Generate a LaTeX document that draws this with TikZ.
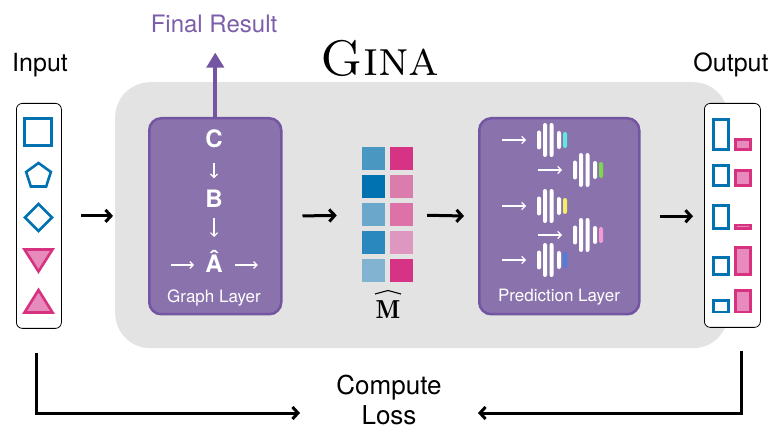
\documentclass[tikz,border=0pt]{standalone}
\usepackage{fontspec}
\setsansfont{TeX Gyre Heros}
\usetikzlibrary{arrows.meta,shapes.geometric,calc}

\definecolor{ginagray}{HTML}{E3E3E3}
\definecolor{layerfill}{HTML}{8A72AC}
\definecolor{layeredge}{HTML}{7355A2}
\definecolor{resultcol}{HTML}{7B5EAA}
\definecolor{sblue}{HTML}{0072B2}
\definecolor{spink}{HTML}{D6327F}
\definecolor{spinkfill}{HTML}{E68BBB}
\definecolor{mb1}{HTML}{4A97C2}
\definecolor{mb2}{HTML}{0072B2}
\definecolor{mb3}{HTML}{6BA7CB}
\definecolor{mb4}{HTML}{2B88BF}
\definecolor{mb5}{HTML}{82B4D2}
\definecolor{mp1}{HTML}{D63385}
\definecolor{mp2}{HTML}{DA7DAC}
\definecolor{mp3}{HTML}{DC72A8}
\definecolor{mp4}{HTML}{DE97C0}
\definecolor{mp5}{HTML}{D63385}
\definecolor{ncyan}{HTML}{5FE8DD}
\definecolor{ngreen}{HTML}{7ED94A}
\definecolor{nyellow}{HTML}{F4EE62}
\definecolor{npink}{HTML}{F59BD4}
\definecolor{nblue}{HTML}{4A7FDD}

\tikzset{
  sizefont/.style={font=\sffamily\fontsize{#1}{#1}\selectfont},
  label/.style={inner sep=0pt, anchor=base},
  arr/.style={draw=black, line width=3pt, -{Straight Barb[length=5.5pt,width=12pt]}},
  warr/.style={draw=white, line width=1.2pt, -{Straight Barb[length=3.5pt,width=7pt]}},
  farr/.style={draw=layeredge, line width=4pt, -{Triangle[length=15pt,width=17pt]}},
  layerbox/.style={draw=layeredge, fill=layerfill, line width=2.5pt, rounded corners=12pt,
    anchor=north west, inner sep=0pt},
  framebox/.style={draw=black, fill=white, line width=0.8pt, rounded corners=6pt,
    anchor=north west, inner sep=0pt},
  bluesh/.style={draw=sblue, line width=2.6pt, fill=white},
  pinksh/.style={draw=spink, line width=2.6pt, fill=spinkfill},
  boldletter/.style={label, font=\sffamily\bfseries\fontsize{24}{24}\selectfont, text=white},
  pics/net/.style={code={
    \foreach \dx/\h in {2/19,8/34,14.5/34,22/18}
      \fill[white, rounded corners=2pt] (\dx-2,-\h/2) rectangle (\dx+2,\h/2);
    \fill[#1, rounded corners=2pt] (26,-8) rectangle (30,8);
    \coordinate (-in) at (-11,0);
  }}
}

\begin{document}
\begin{tikzpicture}[x=1pt,y=-1pt]
\useasboundingbox (0,0) rectangle (774,430);

% main GINA panel
\node[fill=ginagray, rounded corners=35pt, minimum width=613pt, minimum height=266pt,
      anchor=north west, inner sep=0pt] (gina) at (115,82) {};
\node[label, font=\fontsize{50}{50}\selectfont\scshape] (title) at (380,76) {Gina};

% input and output frames
\node[framebox, minimum width=45pt, minimum height=225pt] (inbox) at (16,103) {};
\node[framebox, minimum width=56pt, minimum height=224pt] (outbox) at (704,103) {};
\node[label, sizefont=25] (intext) at (40,72) {Input};
\node[label, sizefont=25] (outtext) at (731,72) {Output};

% input symbols
\draw[bluesh] (24.5,118.5) rectangle (51.5,145.5);
\node[regular polygon, regular polygon sides=5, draw=sblue, line width=2.6pt,
      minimum size=26pt, inner sep=0pt] (pent) at (38.5,176) {};
\draw[bluesh] (38.5,204) -- (52,217.5) -- (38.5,231) -- (25,217.5) -- cycle;
\draw[pinksh, line join=miter] (24.5,249.5) -- (52.5,249.5) -- (38.5,271.5) -- cycle;
\draw[pinksh, line join=miter] (24.5,312.5) -- (52.5,312.5) -- (38.5,290) -- cycle;

% output bars
\draw[bluesh] (713.5,119.5) rectangle (728.5,149.5);
\draw[pinksh] (735.5,139.5) rectangle (750.5,149.5);
\draw[bluesh] (713.5,165.5) rectangle (728.5,185.5);
\draw[pinksh] (735.5,170.5) rectangle (750.5,185.5);
\draw[bluesh] (713.5,205.5) rectangle (728.5,228.5);
\draw[pinksh] (735.5,225) rectangle (750.5,228.5);
\draw[bluesh] (713.5,257.5) rectangle (728.5,274.5);
\draw[pinksh] (735.5,247.5) rectangle (750.5,274.5);
\draw[bluesh] (713.5,300.5) rectangle (728.5,312);
\draw[pinksh] (735.5,290.5) rectangle (750.5,312);

% graph layer
\node[layerbox, minimum width=132pt, minimum height=196pt] (graph) at (148,117) {};
\node[label, sizefont=17, text=white] (glabel) at (214,303) {Graph Layer};
\node[boldletter] (nc) at (214,148) {C};
\node[boldletter] (nb) at (214,208) {B};
\node[boldletter] (na) at (214,273) {Â};
\draw[warr] ([yshift=-15pt]nc.south) -- ([yshift=12pt]nb.north);
\draw[warr] ([yshift=-10pt]nb.south) -- ([yshift=36pt]na.base);
\draw[warr] ([shift={(-34pt,8pt)}]na.base west) -- ([shift={(-11pt,8pt)}]na.base west);
\draw[warr] ([shift={(12pt,8pt)}]na.base east) -- ([shift={(35pt,8pt)}]na.base east);

% final result output
\node[label, sizefont=24, text=resultcol] (fr) at (214,33) {Final Result};
\draw[farr, shorten >=19pt] (graph.north) -- (graph.north |- fr.south);

% embedding matrix
\node[minimum width=51pt, minimum height=136pt, inner sep=0pt] (mat) at (387.5,215) {};
\foreach \r/\cb/\cp in {0/mb1/mp1,1/mb2/mp2,2/mb3/mp3,3/mb4/mp4,4/mb5/mp5} {
  \fill[\cb] (362,147+28*\r) rectangle (385,170+28*\r);
  \fill[\cp] (390,147+28*\r) rectangle (413,170+28*\r);
}
\node[label, font=\fontsize{26}{26}\selectfont] (mlabel) at (388,319) {$\mathbf{M}$};
\draw[line width=1.1pt, line join=round] ([shift={(-13pt,25pt)}]mlabel.base)
  -- ([yshift=28.5pt]mlabel.base) -- ([shift={(13pt,25pt)}]mlabel.base);

% prediction layer
\node[layerbox, minimum width=160pt, minimum height=196pt] (pred) at (478,117) {};
\node[label, sizefont=17, text=white] (plabel) at (559,302) {Prediction Layer};
\pic (n1) at (537,140) {net=ncyan};
\pic (n2) at (573,170) {net=ngreen};
\pic (n3) at (537,206) {net=nyellow};
\pic (n4) at (573,235) {net=npink};
\pic (n5) at (537,260) {net=nblue};
\foreach \n in {n1,n2,n3,n4,n5}
  \draw[warr] ([xshift=-24pt]\n-in) -- (\n-in);

% data flow
\draw[arr, shorten <=19pt, shorten >=2pt] (inbox.east) -- (gina.west |- inbox.east);
\draw[arr, shorten <=20pt, shorten >=25pt] (graph.east) -- (mat.west);
\draw[arr, shorten <=14pt, shorten >=14pt] (mat.east) -- (pred.west);
\draw[arr, shorten <=19pt, shorten >=11pt] (pred.east) -- (outbox.west |- pred.east);

% loss
\node[label, sizefont=26] (lcomp) at (389,395) {Compute};
\node[label, sizefont=26] (lloss) at (389,424) {Loss};
\coordinate (lossc) at (389,413);
\draw[arr] ([shift={(-2.5pt,-24pt)}]inbox.south) |- ([xshift=-89pt]lossc);
\draw[arr] ([shift={(9pt,-23pt)}]outbox.south) |- ([xshift=89pt]lossc);
\end{tikzpicture}
\end{document}
